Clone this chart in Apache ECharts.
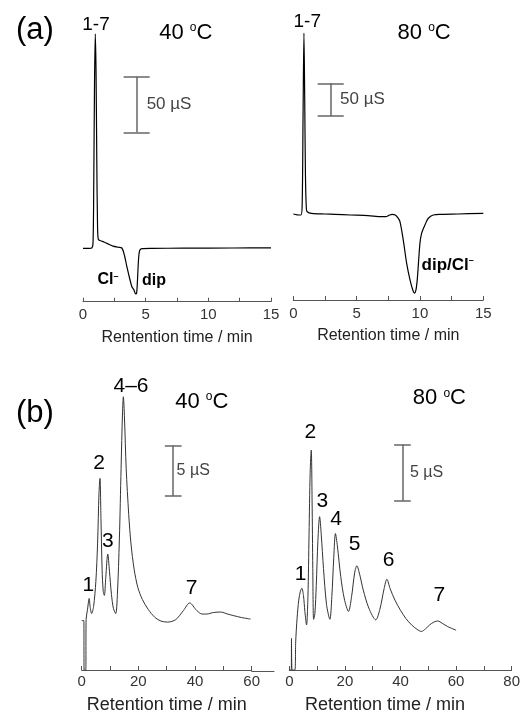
<!DOCTYPE html>
<html>
<head>
<meta charset="utf-8">
<script src="https://cdn.jsdelivr.net/npm/echarts@6/dist/echarts.min.js"></script>
<style>
  html, body { margin: 0; padding: 0; background: #fff; }
  #chart { width: 523px; height: 715px; }
</style>
</head>
<body>
<div id="chart"></div>
<script>
// chromatograms, [time (min), conductivity (µS) relative to baseline]
var a40 = [[0,0],[0.5,0],[0.7,0.3],[0.8,5],[0.86,60],[0.92,150],[0.98,193],[1.04,160],[1.1,80],[1.16,20],
  [1.22,8],[1.35,7],[1.55,6.3],[1.8,5],[2.1,3.5],[2.4,2],[2.8,1],[3.1,0.3],[3.3,-6],[3.5,-16.5],[3.7,-26],
  [3.9,-34.5],[4.05,-37],[4.2,-41],[4.28,-40],[4.35,-28],[4.43,-10],[4.52,-2],[4.7,-0.3],[5.5,0],[8,0.1],[12,0.3],[15,0.4]];
var a80 = [[0,1.5],[0.3,0.3],[0.6,0],[0.7,15],[0.77,150],[0.84,278],[0.9,180],[0.96,60],[1.03,10],[1.1,5],
  [1.45,2.5],[2.5,1.5],[3.3,1],[4.5,0],[5.9,-1],[7.0,-2.5],[7.3,-2.5],[7.6,0],[7.8,1],[8.05,0],[8.25,-4],
  [8.42,-10],[8.68,-38],[8.95,-74],[9.21,-99],[9.42,-114],[9.57,-119.5],[9.68,-115],[9.78,-100],[9.88,-74],
  [10.0,-43],[10.13,-28],[10.4,-15],[10.66,-5],[11.05,0],[11.7,1],[13,1.5],[15,2.5]];
var b40 = [[0,4.9],[0.75,4.9],[0.85,0],[1.45,0],[1.55,5.0],[2.0,5.9],[2.65,7.1],[3.0,6.2],[3.5,5.6],[4.2,6.3],
  [5.0,8.8],[5.6,12.5],[6.1,17.5],[6.45,19.0],[6.8,15],[7.2,10],[7.6,7.8],[8.0,7.4],[8.5,9.2],[9.2,11.5],
  [9.8,9.8],[10.5,7.5],[11.2,6.1],[12.0,5.6],[12.6,7.5],[13.3,13],[13.9,20],[14.4,25.5],[14.7,27.1],[15.1,25],
  [15.7,20],[16.6,15.4],[17.4,12.5],[18.5,10],[19.8,8.2],[21.4,7],[23.5,6],[25.9,5.2],[28,4.85],[30.3,4.75],
  [33.2,5.0],[35.9,5.9],[38.1,6.65],[40.6,5.9],[42.5,5.55],[44.1,5.55],[46.5,5.7],[49,5.75],[51.5,5.55],
  [53.5,5.4],[56.5,5.2],[59.6,5.05]];
var b80 = [[0,0],[0.7,0],[0.8,2.8],[0.9,2.8],[1.0,0],[2.0,0],[2.3,2.5],[2.8,4.6],[3.4,6.2],[4.0,7.0],[4.5,7.25],
  [5.1,6.6],[5.6,5.2],[6.2,4.0],[6.7,6.5],[7.1,12],[7.5,17.5],[7.9,19.5],[8.2,15],[8.45,9],[8.75,4.5],[9.2,5],
  [9.7,7.5],[10.3,11.5],[10.9,13.6],[11.5,12],[12.3,9],[13.4,5.8],[14.6,4.5],[15.3,6.5],[16.0,10],[16.6,12.1],
  [17.3,11],[18.5,8.3],[19.8,6.3],[21.3,5.2],[22.4,6.5],[23.5,8.6],[24.3,9.25],[25.3,8.5],[26.6,7.1],[28.6,5.5],
  [31.1,4.45],[32.6,5.4],[34.1,7.2],[35.1,8.05],[36.3,7.2],[38,6.2],[40,5.3],[42,4.55],[44,4.0],[46,3.6],
  [47.5,3.42],[49,3.65],[50.5,4.0],[52,4.25],[53.4,4.35],[55,4.15],[57,3.85],[60,3.53]];

var peaksA40 = ['1-7'];
var peaksA80 = ['1-7'];
var peaksB40 = ['1', '2', '3', '4\u20136', '7'];
var peaksB80 = ['1', '2', '3', '4', '5', '6', '7'];

var ticksA = [0, 5, 10, 15];
var ticksB40 = [0, 20, 40, 60];
var ticksB80 = [0, 20, 40, 60, 80];

var scaleA = 50;  // µS
var scaleB = 5;   // µS

var FONT = '"Liberation Sans", Arial, sans-serif';
var chartDom = document.getElementById('chart');
var myChart = echarts.init(chartDom);

// label anchors in data coordinates, same order as the peak names
var peakPosA40 = [[1.04, 200.8]];
var peakPosA80 = [[1.1, 295]];
var peakPosB40 = [[2.35, 8.4], [6.1, 20.5], [9.2, 12.8], [17.4, 28.1], [38.8, 8.1]];
var peakPosB80 = [[4.05, 8.5], [7.6, 21.1], [11.85, 15.0], [16.8, 13.4], [23.5, 11.2], [35.7, 9.7], [54.0, 6.6]];

function textStyle(size, extra) {
    var col = extra.color || '#000';
    var s = { fontFamily: FONT, fontSize: size, color: col, textBorderWidth: 0, opacity: 1,
        rich: {
            n: { fontFamily: FONT, fontSize: size, color: col, lineHeight: size, fontWeight: extra.fontWeight || 'normal' },
            o: { fontFamily: FONT, fontSize: Math.round(size * 0.55), color: col, verticalAlign: 'top', lineHeight: size,
                 fontWeight: extra.fontWeight || 'normal' }
        } };
    for (var k in extra) s[k] = extra[k];
    return s;
}

function note(pos, text, size, extra) {
    return { value: pos, label: Object.assign({ show: true, position: 'inside', formatter: text }, textStyle(size, extra || {})) };
}

function notes(names, positions, size) {
    return names.map(function (n, i) { return note(positions[i], n, size); });
}

function scaleBar(x, hw, bottom, h) {
    var top = bottom + h;
    return [
        [{ coord: [x, bottom] }, { coord: [x, top] }],
        [{ coord: [x - hw, bottom] }, { coord: [x + hw, bottom] }],
        [{ coord: [x - hw, top] }, { coord: [x + hw, top] }]
    ];
}

function xAxisFor(grid, max, interval, ticks, name, nameSize, nameGap, labelGap, pad) {
    return {
        type: 'value', gridIndex: grid, min: 0, max: max, interval: interval,
        axisLine: { show: true, onZero: false, lineStyle: { color: '#555', width: 1 } },
        axisTick: { show: true, inside: true, length: 4, lineStyle: { color: '#555' } },
        axisLabel: { margin: labelGap, fontFamily: FONT, fontSize: 15, color: '#333',
            formatter: function (v) { return ticks.indexOf(v) >= 0 ? String(v) : ''; } },
        splitLine: { show: false },
        name: name, nameLocation: 'middle', nameGap: nameGap,
        nameTextStyle: { fontFamily: FONT, fontSize: nameSize, color: '#222', padding: pad || 0 }
    };
}

function yAxisFor(grid, min, max) {
    return { type: 'value', gridIndex: grid, min: min, max: max, show: false, splitLine: { show: false } };
}

function curve(idx, data, color, width, bar) {
    return {
        type: 'line', xAxisIndex: idx, yAxisIndex: idx, data: data,
        showSymbol: false, smooth: 0.3,
        lineStyle: { color: color, width: width },
        markLine: { silent: true, symbol: ['none', 'none'], label: { show: false },
            lineStyle: { color: '#666', width: 1.5, type: 'solid' }, data: bar }
    };
}

function labels(idx, data) {
    return { type: 'scatter', xAxisIndex: idx, yAxisIndex: idx, symbolSize: 1,
        itemStyle: { color: '#fff', opacity: 1 }, data: data, silent: true, z: 5 };
}

var option = {
    animation: false,
    backgroundColor: '#fff',
    title: [
        { text: '(a)', left: 11, top: 10, textStyle: { fontFamily: FONT, fontSize: 31, fontWeight: 'normal', color: '#000' } },
        { text: '(b)', left: 11, top: 393, textStyle: { fontFamily: FONT, fontSize: 31, fontWeight: 'normal', color: '#000' } }
    ],
    grid: [
        { left: 83, width: 188, top: 12.6, height: 289.1 },
        { left: 293.3, width: 190, top: 5.7, height: 294.3 },
        { left: 81.7, width: 170, top: 377.6, height: 294.1 },
        { left: 251.7, width: 22.3, top: 377.6, height: 294.1 },
        { left: 289.3, width: 225.7, top: 376.9, height: 294.8 }
    ],
    xAxis: [
        xAxisFor(0, 15, 2.5, ticksA, 'Rentention time / min', 16, 28, 6),
        xAxisFor(1, 15, 2.5, ticksA, 'Retention time / min', 16, 28, 6),
        xAxisFor(2, 60, 10, ticksB40, 'Retention time / min', 18, 26, 4),
        { type: 'value', gridIndex: 3, min: 0, max: 1,
          axisLine: { show: true, onZero: false, lineStyle: { color: '#555', width: 1 } },
          axisTick: { show: false }, axisLabel: { show: false }, splitLine: { show: false } },
        xAxisFor(4, 80, 10, ticksB80, 'Retention time / min', 18, 26, 4, [0, 31, 0, 0])
    ],
    yAxis: [
        yAxisFor(0, -48, 212),
        yAxisFor(1, -130, 320),
        yAxisFor(2, 0, 29),
        yAxisFor(3, 0, 29),
        yAxisFor(4, 0, 26)
    ],
    series: [
        curve(0, a40, '#000', 1.2, scaleBar(4.28, 1.04, 104.3, scaleA)),
        curve(1, a80, '#000', 1.2, scaleBar(2.95, 1.03, 151.4, scaleA)),
        curve(2, b40, '#333', 1, scaleBar(32.3, 2.95, 17.26, scaleB)),
        curve(4, b80, '#333', 1, scaleBar(40.7, 3.0, 15, scaleB)),
        labels(0, notes(peaksA40, peakPosA40, 19).concat([
            note([8.2, 193.6], '{n|40 }{o|o}{n|C}', 22),
            note([5.08, 129.3], scaleA + ' µS', 17, { color: '#444', align: 'left' }),
            note([2.0, -28.5], '{n|Cl}{o|\u2013}', 16, { fontWeight: 'bold' }),
            note([5.67, -29.4], 'dip', 16, { fontWeight: 'bold' })
        ])),
        labels(1, notes(peaksA80, peakPosA80, 19).concat([
            note([10.33, 278], '{n|80 }{o|o}{n|C}', 22),
            note([3.69, 176.4], scaleA + ' µS', 17, { color: '#444', align: 'left' }),
            note([10.13, -76.5], '{n|dip/Cl}{o|\u2013}', 17, { fontWeight: 'bold', align: 'left' })
        ])),
        labels(2, notes(peaksB40, peakPosB40, 21).concat([
            note([42.4, 26.6], '{n|40 }{o|o}{n|C}', 22),
            note([33.5, 19.76], scaleB + ' µS', 16, { color: '#444', align: 'left' })
        ])),
        labels(4, notes(peaksB80, peakPosB80, 21).concat([
            note([54.0, 24.1], '{n|80 }{o|o}{n|C}', 22),
            note([43.4, 17.5], scaleB + ' µS', 16, { color: '#444', align: 'left' })
        ]))
    ]
};

option && myChart.setOption(option);
</script>
</body>
</html>
